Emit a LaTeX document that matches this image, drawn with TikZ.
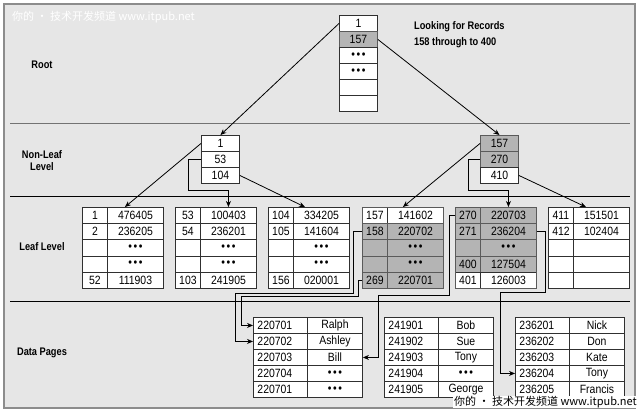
\documentclass[tikz,border=0pt]{standalone}
\usepackage{fontspec}
\setmainfont{Liberation Sans}
\newfontfamily\cellfont[FakeStretch=0.87]{Liberation Sans}
\newfontfamily\lblfont[FakeStretch=0.84]{Liberation Sans}
\newfontfamily\cjkfont{Noto Sans CJK SC}
\usetikzlibrary{arrows.meta,calc}
\definecolor{bgc}{HTML}{E6E6E6}
\definecolor{framec}{HTML}{8C8C8C}
\definecolor{gfill}{HTML}{B4B4B4}
\definecolor{gline}{HTML}{5A5A5A}
\definecolor{wline}{HTML}{303030}
\newcommand{\dts}{\textbullet\hspace{1.6pt}\textbullet\hspace{1.6pt}\textbullet}
\newcommand{\lrow}[6]{%
  \node[#4, minimum width=25pt, minimum height=16.2pt] (#1a) at (#2,#3) {#5};
  \node[#4, minimum width=56pt, minimum height=16.2pt] (#1b) at (#2+25,#3) {#6};}
\newcommand{\drow}[5]{%
  \node[cellw, minimum width=54pt, text width=46pt, inner xsep=4pt, align=left] (#1a) at (#2,#3) {#4};
  \node[cellw, minimum width=55pt] (#1b) at (#2+54,#3) {#5};}
\tikzset{
  cellw/.style={draw=wline, fill=white, line width=0.9pt, anchor=north west, inner sep=0pt,
    minimum height=16pt, font={\cellfont\fontsize{12}{14}\selectfont}},
  cellg/.style={cellw, draw=gline, fill=gfill},
  leafbox/.style={draw=wline, line width=0.9pt, anchor=north west, inner sep=0pt,
    minimum width=81pt, minimum height=81pt},
  gleafbox/.style={leafbox, draw=gline},
  lbl/.style={font={\lblfont\bfseries\fontsize{11}{12}\selectfont}, align=center, inner sep=0pt},
  conn/.style={draw=black, line width=0.8pt, -{Stealth[length=6pt,width=5pt]}},
  sep/.style={draw=black, line width=0.9pt},
  wmark/.style={font={\cjkfont\fontsize{11}{12}\selectfont}, inner sep=1pt}
}
\begin{document}
\begin{tikzpicture}[x=1pt,y=-1pt]
\useasboundingbox (0,0) rectangle (644,413);
\fill[white] (0,0) rectangle (644,413);
\draw[fill=bgc, draw=framec, line width=1.2pt] (4,4) rectangle (635,408);
% separators
\draw[sep, draw=black!55] (10,123) -- (630,123);
\draw[sep] (10,196) -- (630,196);
\draw[sep] (10,301) -- (630,301);
% top-left watermark
\node[wmark, text=white, anchor=west] (wm1) at (11,17) {你的 • 技术开发频道 www.itpub.net};
% level labels
\node[lbl] (lroot) at (42,65) {Root};
\node[lbl] (lnonleaf) at (42,161) {Non-Leaf\\Level};
\node[lbl] (lleaf) at (42,247) {Leaf Level};
\node[lbl] (ldata) at (42,353) {Data Pages};
\node[lbl, anchor=west, align=left, font={\lblfont\bfseries\fontsize{11}{16}\selectfont}] (look) at (414,35) {Looking for Records\\158 through to 400};
% root
\node[cellw, minimum width=38pt] (r1) at (339,15) {1};
\node[cellg, minimum width=38pt] (r2) at (339,31) {157};
\node[cellw, minimum width=38pt] (r3) at (339,47) {\dts};
\node[cellw, minimum width=38pt] (r4) at (339,63) {\dts};
\node[cellw, minimum width=38pt] (r5) at (339,79) {};
\node[cellw, minimum width=38pt] (r6) at (339,95) {};
% non-leaf
\node[cellw, minimum width=38pt] (n1a) at (201,135) {1};
\node[cellw, minimum width=38pt] (n1b) at (201,151) {53};
\node[cellw, minimum width=38pt] (n1c) at (201,167) {104};
\node[cellg, minimum width=38pt] (n2a) at (480,135) {157};
\node[cellg, minimum width=38pt] (n2b) at (480,151) {270};
\node[cellw, minimum width=38pt] (n2c) at (480,167) {410};
% leaf 1
\lrow{L1r1}{82}{207}{cellw}{1}{476405}
\lrow{L1r2}{82}{223.2}{cellw}{2}{236205}
\lrow{L1r3}{82}{239.4}{cellw}{}{\dts}
\lrow{L1r4}{82}{255.6}{cellw}{}{\dts}
\lrow{L1r5}{82}{271.8}{cellw}{52}{111903}
\node[leafbox] (L1) at (82,207) {};
% leaf 2
\lrow{L2r1}{175}{207}{cellw}{53}{100403}
\lrow{L2r2}{175}{223.2}{cellw}{54}{236201}
\lrow{L2r3}{175}{239.4}{cellw}{}{\dts}
\lrow{L2r4}{175}{255.6}{cellw}{}{\dts}
\lrow{L2r5}{175}{271.8}{cellw}{103}{241905}
\node[leafbox] (L2) at (175,207) {};
% leaf 3
\lrow{L3r1}{268}{207}{cellw}{104}{334205}
\lrow{L3r2}{268}{223.2}{cellw}{105}{141604}
\lrow{L3r3}{268}{239.4}{cellw}{}{\dts}
\lrow{L3r4}{268}{255.6}{cellw}{}{\dts}
\lrow{L3r5}{268}{271.8}{cellw}{156}{020001}
\node[leafbox] (L3) at (268,207) {};
% leaf 4
\lrow{L4r1}{362}{207}{cellw}{157}{141602}
\lrow{L4r2}{362}{223.2}{cellg}{158}{220702}
\lrow{L4r3}{362}{239.4}{cellg}{}{\dts}
\lrow{L4r4}{362}{255.6}{cellg}{}{\dts}
\lrow{L4r5}{362}{271.8}{cellg}{269}{220701}
\node[gleafbox] (L4) at (362,207) {};
% leaf 5
\lrow{L5r1}{455}{207}{cellg}{270}{220703}
\lrow{L5r2}{455}{223.2}{cellg}{271}{236204}
\lrow{L5r3}{455}{239.4}{cellg}{}{\dts}
\lrow{L5r4}{455}{255.6}{cellg}{400}{127504}
\lrow{L5r5}{455}{271.8}{cellw}{401}{126003}
\node[gleafbox] (L5) at (455,207) {};
% leaf 6
\lrow{L6r1}{548}{207}{cellw}{411}{151501}
\lrow{L6r2}{548}{223.2}{cellw}{412}{102404}
\lrow{L6r3}{548}{239.4}{cellw}{}{}
\lrow{L6r4}{548}{255.6}{cellw}{}{}
\lrow{L6r5}{548}{271.8}{cellw}{}{}
\node[leafbox] (L6) at (548,207) {};
% data pages
\drow{D1r1}{253}{317}{220701}{Ralph}
\drow{D1r2}{253}{333}{220702}{Ashley}
\drow{D1r3}{253}{349}{220703}{Bill}
\drow{D1r4}{253}{365}{220704}{\dts}
\drow{D1r5}{253}{381}{220701}{\dts}
\drow{D2r1}{384}{317}{241901}{Bob}
\drow{D2r2}{384}{333}{241902}{Sue}
\drow{D2r3}{384}{349}{241903}{Tony}
\drow{D2r4}{384}{365}{241904}{\dts}
\drow{D2r5}{384}{381}{241905}{George}
\drow{D3r1}{515}{317}{236201}{Nick}
\drow{D3r2}{515}{333}{236202}{Don}
\drow{D3r3}{515}{349}{236203}{Kate}
\drow{D3r4}{515}{365}{236204}{Tony}
\drow{D3r5}{515}{381}{236205}{Francis}
% connectors root -> non-leaf
\draw[conn] (r1.west) -- (n1a.north);
\draw[conn] (r2.east) -- (n2a.north);
% non-leaf -> leaf
\draw[conn] (n1a.west) -- ($(L1.north)+(2,0)$);
\draw[conn] (n1b.west) -- ++(-13,0) |- ($(L2r1b.north)+(0,-17)$) -- (L2r1b.north);
\draw[conn] (n1c.east) -- ($(L3.north)+(-4,0)$);
\draw[conn] (n2a.west) -- (L4.north);
\draw[conn] (n2b.west) -- ++(-12,0) |- ($(L5r1b.north)+(0,-17)$) -- (L5r1b.north);
\draw[conn] (n2c.east) -- ($(L6.north)+(-3,0)$);
% leaf -> data pages
\draw[conn] (L4r2a.west) -- ++(-9,0) |- ($(D1r2a.west)+(-18,-48)$) |- (D1r2a.west);
\draw[conn] (L4r5a.west) -- ++(-4,0) |- ($(D1r1a.west)+(-12,-29)$) |- (D1r1a.west);
\draw[conn] (L5r1a.west) -- ++(-6,0) |- ($(D1r3b.east)+(15,-62)$) |- (D1r3b.east);
\draw[conn] (L5r2b.east) -- ++(8,0) |- ($(D3r4a.west)+(-15,-81)$) |- (D3r4a.west);
% bottom-right watermark
\node[wmark, fill=white, text=black, anchor=east, inner ysep=0.5pt] (wm2) at (638,402) {你的 • 技术开发频道 www.itpub.net};
\end{tikzpicture}
\end{document}
